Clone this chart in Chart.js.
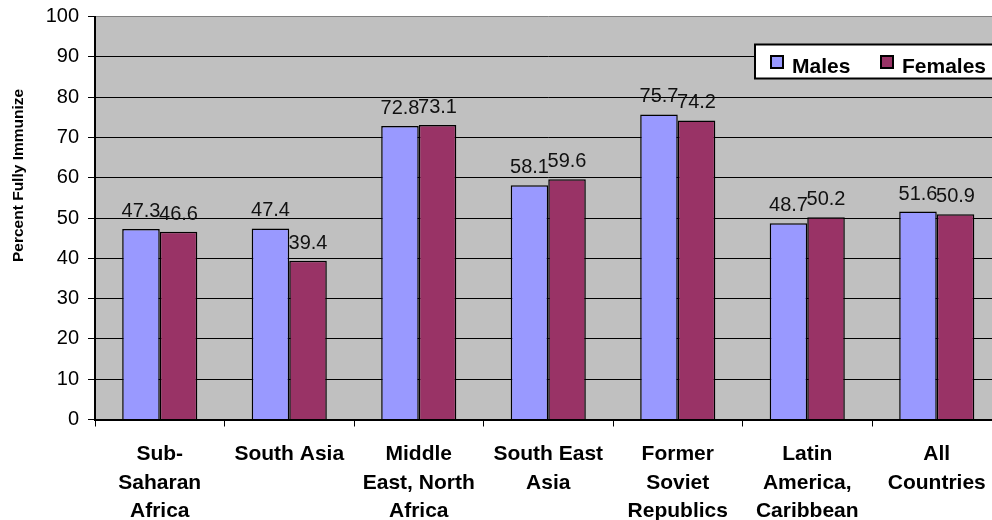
<!DOCTYPE html>
<html>
<head>
<meta charset="utf-8">
<title>Percent Fully Immunized by Region</title>
<script src="https://cdn.jsdelivr.net/npm/chart.js"></script>
<style>
  html, body { margin: 0; padding: 0; background: #fff; overflow: hidden; }
  #wrap { position: absolute; left: 0; top: 0; width: 1004px; height: 520px; }
</style>
</head>
<body>
<div id="wrap"><canvas id="chart"></canvas></div>
<script>
// Regions (multi-line labels), one value per region for each sex
const categories = [
  ['Sub-', 'Saharan', 'Africa'],
  ['South Asia'],
  ['Middle', 'East, North', 'Africa'],
  ['South East', 'Asia'],
  ['Former', 'Soviet', 'Republics'],
  ['Latin', 'America,', 'Caribbean'],
  ['All', 'Countries']
];
const males = [47.3, 47.4, 72.8, 58.1, 75.7, 48.7, 51.6];
const females = [46.6, 39.4, 73.1, 59.6, 74.2, 50.2, 50.9];
const seriesNames = ['Males', 'Females'];
const yMin = 0, yMax = 100, yStep = 10;
const yTitle = 'Percent Fully Immunized';

const FONT = '"Liberation Sans", Arial, sans-serif';

// grey plot area behind the grid
const plotBackground = {
  id: 'plotBackground',
  beforeDraw(chart) {
    const { ctx, chartArea: a } = chart;
    ctx.save();
    ctx.fillStyle = '#c0c0c0';
    ctx.fillRect(a.left, a.top, a.right - a.left, a.bottom - a.top);
    ctx.restore();
  }
};

// value printed above every bar
const valueLabels = {
  id: 'valueLabels',
  afterDatasetsDraw(chart) {
    const ctx = chart.ctx;
    ctx.save();
    ctx.font = '20px ' + FONT;
    ctx.fillStyle = '#111';
    ctx.textAlign = 'center';
    ctx.textBaseline = 'alphabetic';
    chart.data.datasets.forEach((ds, i) => {
      chart.getDatasetMeta(i).data.forEach((bar, j) => {
        ctx.fillText(ds.data[j].toFixed(1), bar.x, bar.y - 12);
      });
    });
    ctx.restore();
  }
};

// boxed legend inside the plot, top right
const boxLegend = {
  id: 'boxLegend',
  afterDraw(chart) {
    const ctx = chart.ctx;
    ctx.save();
    ctx.fillStyle = '#fff';
    ctx.fillRect(755, 44.5, 260, 34);
    ctx.strokeStyle = '#000';
    ctx.lineWidth = 2;
    ctx.strokeRect(755, 44.5, 260, 34);
    const xs = [771, 881];
    ctx.font = 'bold 21px ' + FONT;
    ctx.textBaseline = 'alphabetic';
    chart.data.datasets.forEach((ds, i) => {
      ctx.fillStyle = ds.backgroundColor;
      ctx.fillRect(xs[i], 56, 12, 12);
      ctx.lineWidth = 2;
      ctx.strokeRect(xs[i], 56, 12, 12);
      ctx.fillStyle = '#000';
      ctx.fillText(ds.label, xs[i] + 21, 72.5);
    });
    ctx.restore();
  }
};

// rotated y-axis title, cut off at the top like the original frame
const sideTitle = {
  id: 'sideTitle',
  afterDraw(chart) {
    const ctx = chart.ctx;
    ctx.save();
    ctx.beginPath();
    ctx.rect(0, 88, 40, 440);
    ctx.clip();
    ctx.translate(18.5, 262);
    ctx.rotate(-Math.PI / 2);
    ctx.font = 'bold 15.5px ' + FONT;
    ctx.fillStyle = '#000';
    ctx.textAlign = 'left';
    ctx.textBaseline = 'middle';
    ctx.fillText(yTitle, 0, 0);
    ctx.restore();
  }
};

new Chart(document.getElementById('chart'), {
  type: 'bar',
  data: {
    labels: categories,
    datasets: [
      { label: seriesNames[0], data: males, backgroundColor: '#9999ff', borderColor: '#000', borderWidth: 1.5 },
      { label: seriesNames[1], data: females, backgroundColor: '#993366', borderColor: '#000', borderWidth: 1.5 }
    ]
  },
  options: {
    responsive: true,
    maintainAspectRatio: false,
    animation: false,
    layout: { padding: { top: 0, right: 2.5, left: 0, bottom: 0 } },
    datasets: { bar: { categoryPercentage: 0.58, barPercentage: 1 } },
    plugins: { legend: { display: false }, tooltip: { enabled: false } },
    scales: {
      x: {
        offset: true,
        grid: { offset: true, drawOnChartArea: false, tickLength: 7, color: '#000', lineWidth: 1 },
        border: { display: true, color: '#000', width: 2 },
        ticks: {
          color: '#000',
          font: { family: FONT, size: 21, weight: 'bold', lineHeight: 1.35 },
          padding: 14,
          maxRotation: 0,
          autoSkip: false
        },
        afterFit(scale) { scale.height = 100.5; }
      },
      y: {
        min: yMin,
        max: yMax,
        // lineHeight only trims the space reserved above the top label
        ticks: { stepSize: yStep, color: '#000', font: { family: FONT, size: 20, lineHeight: 0.75 }, padding: 9 },
        grid: {
          color: c => (c.tick && c.tick.value === yMax ? '#808080' : '#000'),
          tickColor: '#000',
          lineWidth: 1,
          tickLength: 7
        },
        border: { display: true, color: '#000', width: 2 },
        afterFit(scale) { scale.width = 95; }
      }
    }
  },
  plugins: [plotBackground, valueLabels, boxLegend, sideTitle]
});
</script>
</body>
</html>
